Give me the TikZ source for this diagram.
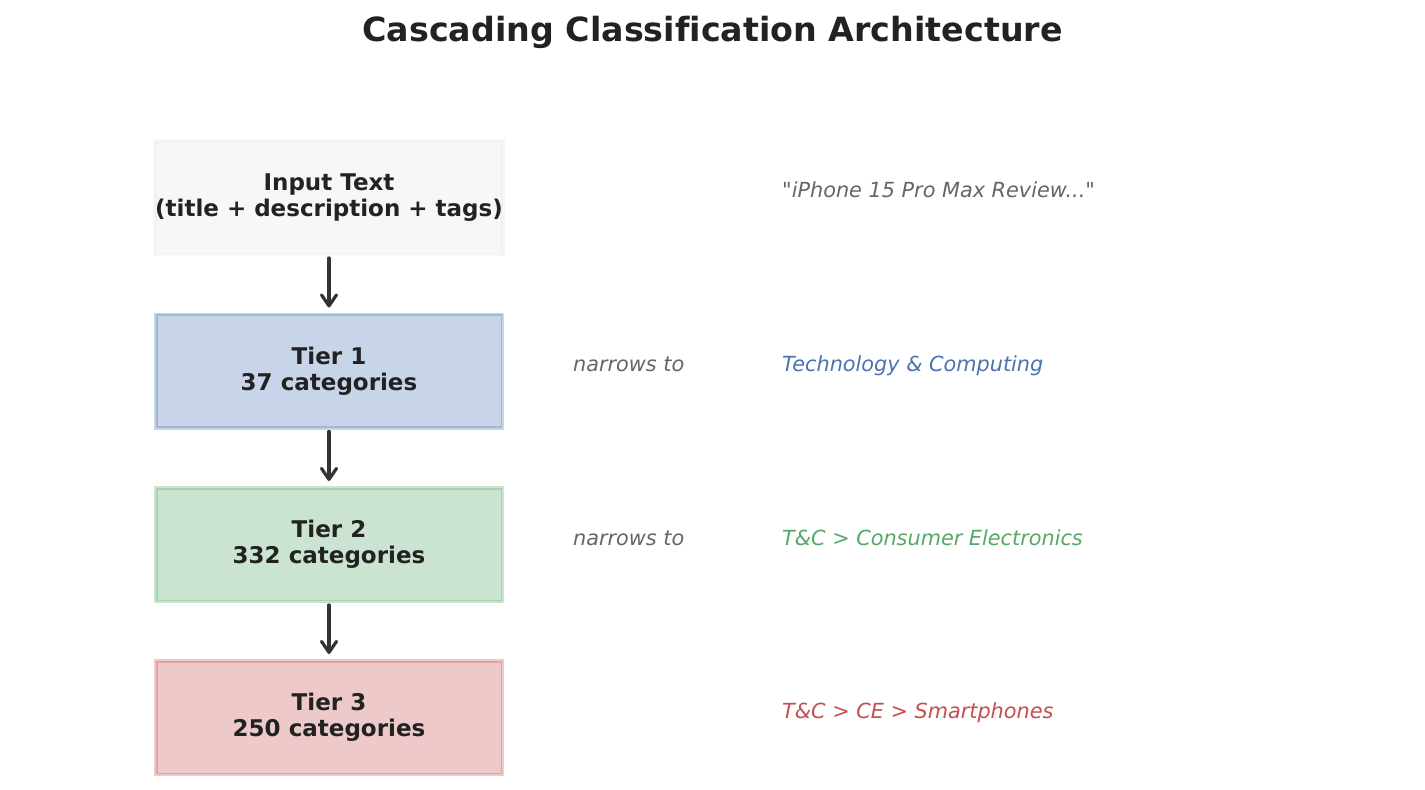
\documentclass[tikz,border=0pt]{standalone}
\usepackage{fontspec}
\setmainfont{DejaVu Sans}[Ligatures={TeXOff,NoCommon}]
\usetikzlibrary{arrows.meta}
\definecolor{ink}{HTML}{222222}
\definecolor{greytxt}{HTML}{666666}
\definecolor{arrowc}{HTML}{333333}
\definecolor{cgrey}{HTML}{E5E5E5}
\definecolor{cblue}{HTML}{4C72B0}
\definecolor{cgreen}{HTML}{55A868}
\definecolor{cred}{HTML}{C44E52}
\tikzset{
  tierbox/.style={rectangle, minimum width=346.5pt, minimum height=113.5pt,
    line width=3.5pt, fill=#1, draw=#1, fill opacity=0.3, draw opacity=0.3,
    text opacity=1, text=ink, align=center, inner sep=0pt,
    font=\fontsize{23pt}{25.6pt}\selectfont\bfseries},
  flowarrow/.style={draw=arrowc, line width=3.2pt, line cap=round, line join=round,
    -{Straight Barb[length=11pt,width=15pt,line join=round,line cap=round]},
    shorten <=2pt, shorten >=5pt},
  note/.style={anchor=base west, inner sep=0pt,
    font=\fontsize{20.8pt}{24pt}\selectfont\itshape},
  titletext/.style={anchor=base, inner sep=0pt, text=ink,
    font=\fontsize{33.3pt}{40pt}\selectfont\bfseries}
}
\begin{document}
\begin{tikzpicture}[x=1pt, y=-1pt]
\useasboundingbox (0,0) rectangle (1425,790);
\fill[white] (0,0) rectangle (1425,790);

\node[titletext] (title) at (712.5,41) {Cascading Classification Architecture};

\node[tierbox=cgrey] (b0) at (329,197.5) {Input Text\\(title + description + tags)};
\node[tierbox=cblue] (b1) at (329,371) {Tier 1\\37 categories};
\node[tierbox=cgreen] (b2) at (329,544.5) {Tier 2\\332 categories};
\node[tierbox=cred] (b3) at (329,717.5) {Tier 3\\250 categories};

\draw[flowarrow] (b0.south) -- (b1.north);
\draw[flowarrow] (b1.south) -- (b2.north);
\draw[flowarrow] (b2.south) -- (b3.north);

\node[note, text=greytxt] (n1) at (573,371) {narrows to};
\node[note, text=greytxt] (n2) at (573,545) {narrows to};

\node[note, text=greytxt] (e0) at (782,197) {"iPhone 15 Pro Max Review..."};
\node[note, text=cblue] (e1) at (782,371) {Technology \& Computing};
\node[note, text=cgreen] (e2) at (782,545) {T\&C > Consumer Electronics};
\node[note, text=cred] (e3) at (782,718) {T\&C > CE > Smartphones};
\end{tikzpicture}
\end{document}
